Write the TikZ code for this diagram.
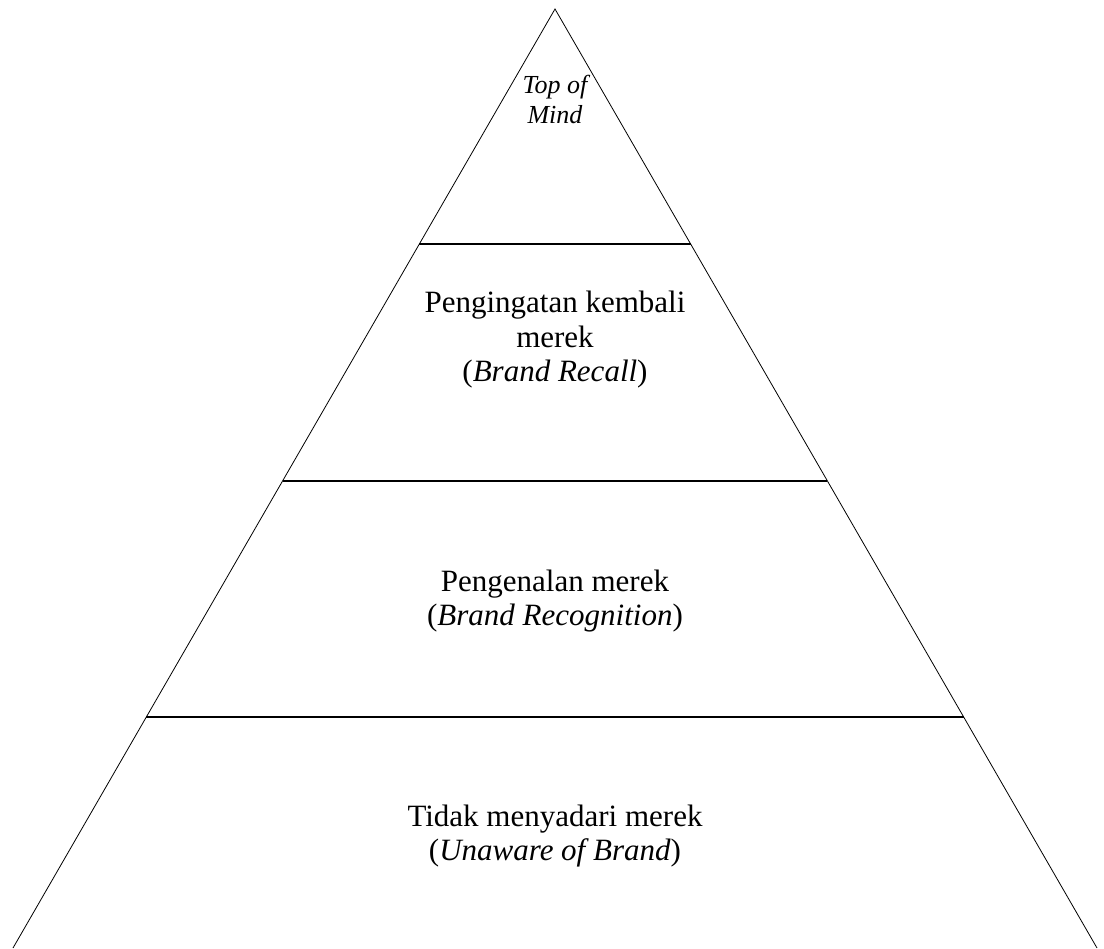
\documentclass[tikz,border=0pt]{standalone}
\usepackage{fontspec}
\setmainfont{Liberation Serif}
\usetikzlibrary{calc}
\tikzstyle{side} = [line width=0.8pt, draw=black]
\tikzstyle{divider} = [line width=1.6pt, draw=black]
\tikzstyle{tier} = [align=center, inner sep=0pt,
  font=\fontsize{31}{34.5}\selectfont]
\tikzstyle{peak} = [align=center, inner sep=0pt,
  font=\fontsize{26}{30}\selectfont\itshape]

\begin{document}
\begin{tikzpicture}[x=1pt, y=-1pt]
  \useasboundingbox (0,0) rectangle (1104,949);
  \coordinate (apex) at (555,9);
  \coordinate (baseL) at (13,948);
  \coordinate (baseR) at (1097,948);
  \coordinate (l1) at ($(apex)!0.2503!(baseL)$);
  \coordinate (r1) at ($(apex)!0.2503!(baseR)$);
  \coordinate (l2) at ($(apex)!0.5027!(baseL)$);
  \coordinate (r2) at ($(apex)!0.5027!(baseR)$);
  \coordinate (l3) at ($(apex)!0.754!(baseL)$);
  \coordinate (r3) at ($(apex)!0.754!(baseR)$);

  \draw [side] (baseL) -- (apex) -- (baseR);
  \draw [divider] (l1) -- (r1);
  \draw [divider] (l2) -- (r2);
  \draw [divider] (l3) -- (r3);

  \node (mind) [peak] at (555,99) {Top of\\Mind};
  \node (recall) [tier] at (555,340)
    {Pengingatan kembali\\merek\\(\textit{Brand Recall})};
  \node (recog) [tier] at (555,601)
    {Pengenalan merek\\(\textit{Brand Recognition})};
  \node (unaware) [tier] at (555,836)
    {Tidak menyadari merek\\(\textit{Unaware of Brand})};
\end{tikzpicture}
\end{document}
